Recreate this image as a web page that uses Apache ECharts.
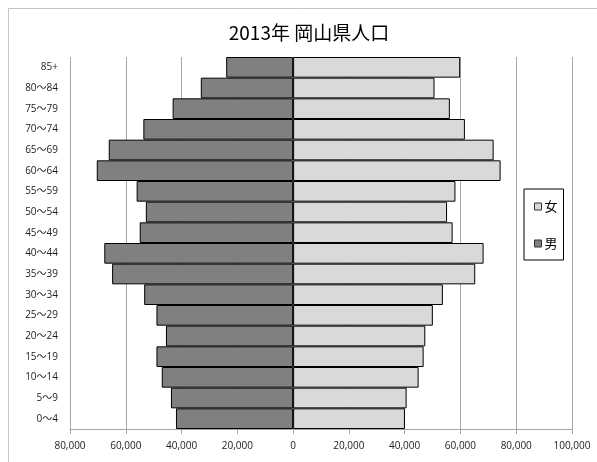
<!DOCTYPE html>
<html>
<head>
<meta charset="utf-8">
<script src="https://cdn.jsdelivr.net/npm/echarts@6/dist/echarts.min.js"></script>
<style>
html,body{margin:0;padding:0;background:#fff;}
#chart{width:597px;height:462px;}
</style>
</head>
<body>
<div id="chart"></div>
<script>
var categories = ['0～4','5～9','10～14','15～19','20～24','25～29','30～34','35～39','40～44','45～49','50～54','55～59','60～64','65～69','70～74','75～79','80～84','85+'];
var male = [42000, 43800, 47100, 49000, 45600, 49000, 53400, 64900, 67700, 55000, 52800, 56100, 70400, 66100, 53700, 43200, 33100, 24000];
var female = [40100, 40700, 45000, 46800, 47400, 50100, 53700, 65300, 68300, 57200, 55200, 58200, 74400, 71900, 61600, 56200, 50700, 59900];
var xTicks = {min: -80000, max: 100000, interval: 20000};

var chart = echarts.init(document.getElementById('chart'));
var font = '"Noto Sans CJK JP", "Noto Sans", sans-serif';
var labelFont = '"Open Sans", "Noto Sans CJK JP", sans-serif';
chart.setOption({
  animation: false,
  backgroundColor: '#fff',
  title: {
    text: '2013年 岡山県人口',
    left: 304, top: 18, textAlign: 'center',
    textStyle: {fontFamily: font, fontSize: 19, fontWeight: 'normal', color: '#000'}
  },
  graphic: [{
    type: 'rect', shape: {x: 8.5, y: 8.5, width: 620, height: 480},
    style: {fill: 'none', stroke: '#c4c4c4', lineWidth: 1}, silent: true, z: -1
  }],
  legend: {
    orient: 'vertical', left: 524, top: 189, width: 45,
    padding: [11, 6, 10, 10],
    itemGap: 24,
    itemWidth: 7, itemHeight: 7,
    icon: 'rect',
    itemStyle: {borderWidth: 1, borderColor: '#333'},
    borderColor: '#000', borderWidth: 1,
    data: ['女', '男'],
    textStyle: {fontFamily: font, fontSize: 13, color: '#000', padding: [0, 0, 0, -2]}
  },
  grid: {left: 70, right: 25, top: 57, bottom: 33, containLabel: false},
  xAxis: {
    type: 'value', min: xTicks.min, max: xTicks.max, interval: xTicks.interval,
    axisLine: {show: true, onZero: false, lineStyle: {color: '#a6a6a6'}},
    axisTick: {show: true, length: 5, lineStyle: {color: '#a6a6a6'}},
    splitLine: {show: true, lineStyle: {color: '#a6a6a6', width: 1}},
    axisLabel: {
      margin: 12, color: '#222', fontFamily: labelFont, fontSize: 10,
      formatter: function (v) { return Math.abs(v).toLocaleString('en-US'); }
    }
  },
  yAxis: {
    type: 'category', data: categories,
    axisLine: {show: false, onZero: false},
    axisTick: {show: false},
    axisLabel: {margin: 12, color: '#222', fontFamily: labelFont, fontSize: 10}
  },
  series: [
    {
      name: '男', type: 'bar', barCategoryGap: 0, barGap: '-100%',
      data: male.map(function (v) { return -v; }),
      itemStyle: {color: '#808080', borderColor: '#000', borderWidth: 1}
    },
    {
      name: '女', type: 'bar', barCategoryGap: 0, barGap: '-100%',
      data: female,
      itemStyle: {color: '#d9d9d9', borderColor: '#000', borderWidth: 1}
    }
  ]
});
</script>
</body>
</html>
